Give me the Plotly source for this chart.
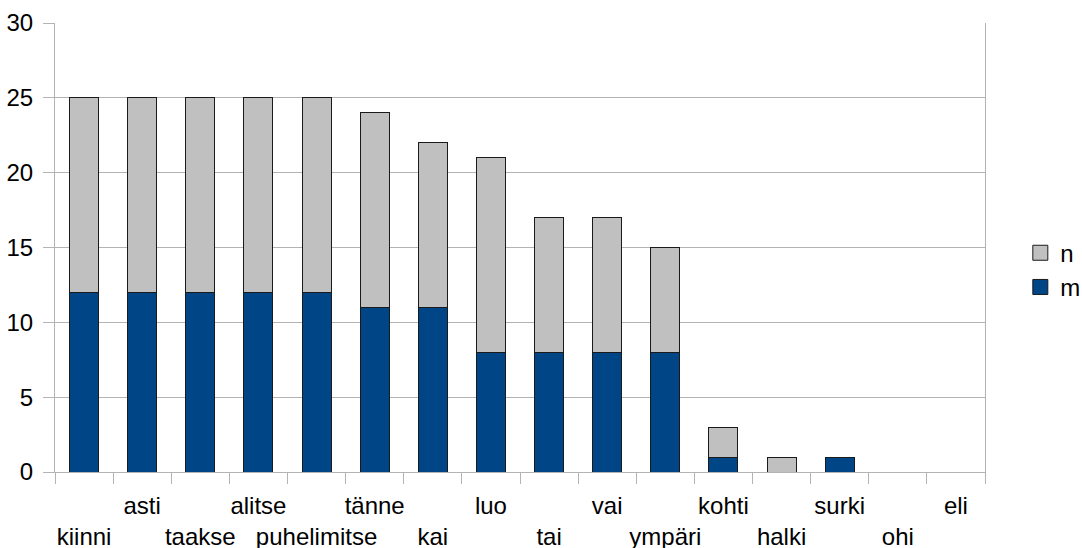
import plotly.graph_objects as go

categories = ["kiinni", "asti", "taakse", "alitse", "puhelimitse", "tänne", "kai", "luo",
              "tai", "vai", "ympäri", "kohti", "halki", "surki", "ohi", "eli"]
m_values = [12, 12, 12, 12, 12, 11, 11, 8, 8, 8, 8, 1, 0, 1, 0, 0]
n_values = [13, 13, 13, 13, 13, 13, 11, 13, 9, 9, 7, 2, 1, 0, 0, 0]

# staggered labels: every other one pushed to a second line
tick_text = [("<br>" + c) if i % 2 == 0 else c for i, c in enumerate(categories)]

GRID = "#b3b3b3"
EDGE = "#1a1a1a"
BLUE = "#004586"
GREY = "#c0c0c0"
FONT = dict(family="Liberation Sans, Arial, sans-serif", size=24, color="#000000")

fig = go.Figure()
fig.add_trace(go.Bar(x=categories, y=m_values, name="m", showlegend=False,
                     marker=dict(color=BLUE, line=dict(color=EDGE, width=1))))
fig.add_trace(go.Bar(x=categories, y=n_values, name="n", showlegend=False,
                     marker=dict(color=GREY, line=dict(color=EDGE, width=1))))

# legend entries with bigger square swatches
for name, col in [("n", GREY), ("m", BLUE)]:
    fig.add_trace(go.Scatter(x=[None], y=[None], mode="markers", name=name,
                             legendgroup=name,
                             marker=dict(symbol="square", size=15, color=col,
                                         line=dict(color=EDGE, width=1))))

fig.update_layout(
    width=1082, height=548,
    barmode="stack", bargap=0.5,
    plot_bgcolor="white", paper_bgcolor="white",
    font=FONT,
    margin=dict(l=55, r=97, t=23, b=76, autoexpand=False),
    legend=dict(xref="container", yref="container", x=0.943, y=0.507,
                xanchor="left", yanchor="middle", traceorder="normal",
                font=dict(size=24), tracegroupgap=8, itemwidth=30),
    showlegend=True,
)
fig.update_xaxes(
    type="category", tickmode="array", tickvals=categories, ticktext=tick_text,
    tickson="boundaries", ticks="outside", ticklen=11, tickcolor=GRID, tickwidth=1,
    showgrid=False, showline=True, linecolor=GRID, mirror=False,
    tickangle=0, ticklabelstandoff=12, automargin=False,
)
fig.update_yaxes(
    range=[0, 30], dtick=5, ticks="outside", ticklen=11, tickcolor=GRID,
    showgrid=True, gridcolor=GRID, showline=True, linecolor=GRID, mirror=True,
    zeroline=False, ticklabelstandoff=5, automargin=False,
)

fig.write_html("out.html", config={"displayModeBar": False},
               post_script="document.body.style.margin='0';")
